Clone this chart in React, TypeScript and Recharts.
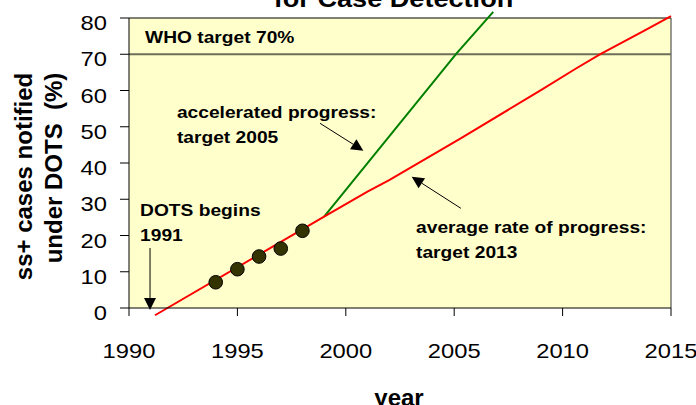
import { ComposedChart, Line, Scatter, XAxis, YAxis, CartesianGrid, ReferenceLine } from 'recharts'

const years = [1990, 1995, 2000, 2005, 2010, 2015]
const pctTicks = [0, 10, 20, 30, 40, 50, 60, 70, 80]

// observed case detection (dots)
const notifiedYears = [1994, 1995, 1996, 1997, 1998]
const notifiedPct = [7.1, 10.7, 14.2, 16.4, 21.3]

// average rate of progress (red)
const averageYears = [1991.2, 1999, 2001, 2002, 2005.3, 2009, 2010.6, 2011.7, 2013.9, 2015]
const averagePct = [-2, 25.2, 32.1, 35.3, 46.8, 60.1, 66.0, 69.9, 76.9, 80.5]

// accelerated progress (green)
const acceleratedYears = [1999, 2005.1, 2006.8]
const acceleratedPct = [25.2, 70.2, 81.7]

const whoTarget = 70

const notes = [
  { lines: ['WHO target 70%'], x: 1990.74, y: 73.1 },
  { lines: ['accelerated progress:', 'target 2005'], x: 1992.21, y: 52.55 },
  { lines: ['DOTS begins', '1991'], x: 1990.51, y: 25.46 },
  { lines: ['average rate of progress:', 'target 2013'], x: 2003.24, y: 20.77 },
]

const arrows = [
  { from: [1998.81, 50.95], to: [2000.81, 43.4] },
  { from: [2005.31, 27.5], to: [2003.04, 36.2] },
  { from: [1990.97, 16.55], to: [1990.97, -0.55] },
]

const toPoints = (xs: number[], ys: number[]) => xs.map((x, i) => ({ x, y: ys[i] }))

const W = 696
const H = 405
const plot = { left: 129, top: 18, right: 671, bottom: 308 }
const SX = 1.13
const FONT = '"Liberation Sans", Arial, sans-serif'

const px = (yr: number) => plot.left + ((yr - 1990) / 25) * (plot.right - plot.left)
const py = (v: number) => plot.bottom - (v / 80) * (plot.bottom - plot.top)

function Stretched({ x, y, size, bold, anchor, children }: any) {
  return (
    <text
      transform={`translate(${x},${y}) scale(${SX},1)`}
      fontSize={size}
      fontWeight={bold ? 'bold' : 'normal'}
      fontFamily={FONT}
      textAnchor={anchor || 'start'}
      fill="#000"
    >
      {children}
    </text>
  )
}

const YTick = (p: any) => (
  <Stretched x={p.x} y={p.y + 12} size={21} anchor="end">
    {p.payload.value}
  </Stretched>
)

const XTick = (p: any) => (
  <Stretched x={p.x} y={p.y + 15} size={21} anchor="middle">
    {p.payload.value}
  </Stretched>
)

const Dot = (p: any) => <circle cx={p.cx} cy={p.cy} r={6.8} fill="#333300" stroke="#000" strokeWidth={1} />

function Arrow({ from, to }: { from: number[]; to: number[] }) {
  const x1 = px(from[0]), y1 = py(from[1])
  const x2 = px(to[0]), y2 = py(to[1])
  const len = Math.hypot(x2 - x1, y2 - y1)
  const ux = (x2 - x1) / len, uy = (y2 - y1) / len
  const hl = 12, hw = 6
  const bx = x2 - ux * hl, by = y2 - uy * hl
  return (
    <g>
      <line x1={x1} y1={y1} x2={bx} y2={by} stroke="#000" strokeWidth={1} />
      <polygon
        points={`${x2},${y2} ${bx - uy * hw},${by + ux * hw} ${bx + uy * hw},${by - ux * hw}`}
        fill="#000"
      />
    </g>
  )
}

export default function App() {
  return (
    <div style={{ position: 'absolute', left: 0, top: 0, width: W, height: H, background: '#fff' }}>
      <style>{`.recharts-line, .recharts-line * { clip-path: none !important; }`}</style>
      <ComposedChart
        width={W}
        height={H}
        margin={{ top: plot.top, right: W - plot.right, bottom: H - plot.bottom - 60, left: plot.left - 100 }}
      >
        <CartesianGrid horizontal={false} vertical={false} fill="#FFFFCC" fillOpacity={1} />
        <XAxis
          type="number"
          dataKey="x"
          domain={[1990, 2015]}
          ticks={years}
          allowDataOverflow
          height={60}
          tickSize={8}
          tickMargin={27}
          axisLine={{ stroke: '#000' }}
          tickLine={{ stroke: '#000' }}
          tick={XTick}
        />
        <YAxis
          type="number"
          dataKey="y"
          domain={[0, 80]}
          ticks={pctTicks}
          allowDataOverflow
          width={100}
          tickSize={9}
          tickMargin={13}
          axisLine={{ stroke: '#000' }}
          tickLine={{ stroke: '#000' }}
          tick={YTick}
        />
        <ReferenceLine y={80} stroke="#000" />
        <ReferenceLine x={2015} stroke="#333" />
        <ReferenceLine y={whoTarget} stroke="#6E6E58" strokeWidth={2} />
        <Line
          data={toPoints(acceleratedYears, acceleratedPct)}
          dataKey="y"
          type="linear"
          stroke="#008000"
          strokeWidth={2}
          dot={false}
          isAnimationActive={false}
        />
        <Line
          data={toPoints(averageYears, averagePct)}
          dataKey="y"
          type="linear"
          stroke="#FF0000"
          strokeWidth={2}
          dot={false}
          isAnimationActive={false}
        />
        <Scatter data={toPoints(notifiedYears, notifiedPct)} shape={Dot} isAnimationActive={false} />
      </ComposedChart>
      <svg width={W} height={H} style={{ position: 'absolute', left: 0, top: 0, pointerEvents: 'none' }}>
        <Stretched x={393.5} y={7} size={24} bold anchor="middle">
          for Case Detection
        </Stretched>
        {notes.map((n, i) =>
          n.lines.map((t, j) => (
            <Stretched key={`${i}-${j}`} x={px(n.x)} y={py(n.y) + j * 25} size={17} bold>
              {t}
            </Stretched>
          ))
        )}
        {arrows.map((a, i) => (
          <Arrow key={i} from={a.from} to={a.to} />
        ))}
        <g fontFamily={FONT} fontWeight="bold" fontSize={24} fill="#000" textAnchor="middle">
          <text transform="translate(32,176.5) rotate(-90)">ss+ cases notified</text>
          <text transform="translate(62,168) rotate(-90)" style={{ whiteSpace: 'pre' }}>
            under DOTS  (%)
          </text>
          <text x={399} y={406}>year</text>
        </g>
      </svg>
    </div>
  )
}
